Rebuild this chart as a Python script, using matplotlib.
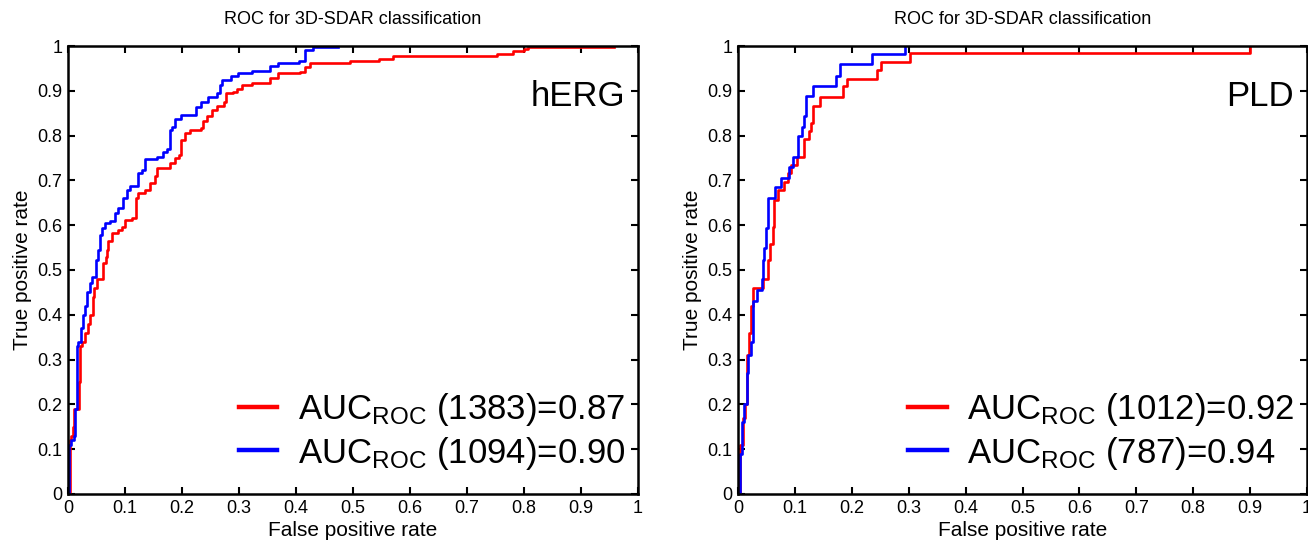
import matplotlib
matplotlib.use('Agg')
import matplotlib.pyplot as plt

plt.rcParams['font.family'] = ['Liberation Sans', 'DejaVu Sans']
plt.rcParams['mathtext.fontset'] = 'custom'
plt.rcParams['mathtext.rm'] = 'Liberation Sans'
plt.rcParams['mathtext.default'] = 'regular'

# ROC corner points (fpr, tpr)
herg_red_fpr = [0, 0.003, 0.004, 0.006, 0.009, 0.011, 0.019, 0.021, 0.024, 0.029, 0.035, 0.038,
                0.043, 0.046, 0.050, 0.062, 0.066, 0.068, 0.071, 0.077, 0.088, 0.094, 0.100,
                0.112, 0.119, 0.123, 0.135, 0.144, 0.153, 0.156, 0.179, 0.188, 0.195, 0.198,
                0.205, 0.214, 0.234, 0.237, 0.243, 0.252, 0.261, 0.274, 0.278, 0.290, 0.296,
                0.305, 0.322, 0.354, 0.369, 0.407, 0.416, 0.425, 0.436, 0.494, 0.545, 0.571,
                0.752, 0.781, 0.800, 0.807, 0.958]
herg_red_tpr = [0, 0.05, 0.12, 0.13, 0.15, 0.19, 0.25, 0.33, 0.34, 0.36, 0.38, 0.40,
                0.44, 0.46, 0.481, 0.515, 0.53, 0.544, 0.565, 0.583, 0.590, 0.597, 0.612,
                0.615, 0.660, 0.672, 0.679, 0.695, 0.709, 0.727, 0.738, 0.749, 0.757, 0.790,
                0.805, 0.812, 0.816, 0.833, 0.844, 0.857, 0.866, 0.876, 0.894, 0.898, 0.905,
                0.913, 0.918, 0.929, 0.939, 0.942, 0.953, 0.961, 0.963, 0.966, 0.972, 0.977,
                0.982, 0.988, 0.993, 0.997, 0.997]

herg_blue_fpr = [0, 0.002, 0.006, 0.011, 0.013, 0.015, 0.016, 0.018, 0.022, 0.026, 0.029, 0.033,
                 0.038, 0.042, 0.049, 0.053, 0.056, 0.059, 0.065, 0.074, 0.082, 0.088, 0.097,
                 0.103, 0.109, 0.123, 0.129, 0.135, 0.156, 0.167, 0.173, 0.179, 0.182, 0.188,
                 0.199, 0.225, 0.234, 0.246, 0.261, 0.267, 0.271, 0.286, 0.299, 0.322, 0.354,
                 0.369, 0.406, 0.416, 0.430, 0.474]
herg_blue_tpr = [0, 0.11, 0.12, 0.13, 0.19, 0.23, 0.33, 0.34, 0.37, 0.40, 0.42, 0.45,
                 0.47, 0.485, 0.522, 0.544, 0.578, 0.593, 0.605, 0.610, 0.627, 0.638, 0.660,
                 0.679, 0.688, 0.716, 0.723, 0.747, 0.753, 0.764, 0.771, 0.812, 0.820, 0.836,
                 0.846, 0.864, 0.876, 0.887, 0.896, 0.913, 0.924, 0.932, 0.939, 0.944, 0.955,
                 0.961, 0.966, 0.990, 0.997, 0.997]

pld_red_fpr = [0, 0.003, 0.009, 0.013, 0.016, 0.020, 0.022, 0.027, 0.044, 0.053, 0.056, 0.061,
               0.064, 0.071, 0.080, 0.088, 0.094, 0.103, 0.116, 0.124, 0.128, 0.131, 0.144,
               0.184, 0.191, 0.244, 0.251, 0.302, 0.900]
pld_red_tpr = [0, 0.11, 0.17, 0.20, 0.31, 0.36, 0.42, 0.46, 0.48, 0.522, 0.559, 0.596,
               0.656, 0.679, 0.697, 0.716, 0.734, 0.753, 0.792, 0.811, 0.829, 0.866, 0.887,
               0.910, 0.926, 0.946, 0.964, 0.985, 1.0]

pld_blue_fpr = [0, 0.003, 0.007, 0.011, 0.015, 0.018, 0.022, 0.027, 0.034, 0.042, 0.044, 0.045,
                0.049, 0.052, 0.065, 0.075, 0.090, 0.096, 0.105, 0.112, 0.116, 0.119, 0.132,
                0.172, 0.179, 0.235, 0.2935]
pld_blue_tpr = [0, 0.09, 0.16, 0.20, 0.27, 0.31, 0.34, 0.43, 0.455, 0.48, 0.522, 0.548,
                0.593, 0.661, 0.686, 0.705, 0.731, 0.753, 0.800, 0.820, 0.843, 0.889, 0.910,
                0.934, 0.959, 0.982, 1.0]

panels = [
    ('hERG', herg_red_fpr, herg_red_tpr, herg_blue_fpr, herg_blue_tpr,
     r'AUC$_{ROC}$ (1383)=0.87', r'AUC$_{ROC}$ (1094)=0.90'),
    ('PLD', pld_red_fpr, pld_red_tpr, pld_blue_fpr, pld_blue_tpr,
     r'AUC$_{ROC}$ (1012)=0.92', r'AUC$_{ROC}$ (787)=0.94'),
]
ticks = [0, 0.1, 0.2, 0.3, 0.4, 0.5, 0.6, 0.7, 0.8, 0.9, 1]
tick_labels = ['0', '0.1', '0.2', '0.3', '0.4', '0.5', '0.6', '0.7', '0.8', '0.9', '1']

fig = plt.figure(figsize=(13.08, 5.4), dpi=100)
rects = [[68/1308, 46/540, 570/1308, 448/540], [738/1308, 46/540, 569/1308, 448/540]]

for rect, (name, rx, ry, bx, by, rlab, blab) in zip(rects, panels):
    ax = fig.add_axes(rect)
    ax.plot(rx, ry, color='#ff0000', lw=1.9, drawstyle='steps-post', label=rlab)
    ax.plot(bx, by, color='#0000ff', lw=1.9, drawstyle='steps-post', label=blab)
    ax.set_xlim(0, 1)
    ax.set_ylim(0, 1)
    ax.set_xticks(ticks)
    ax.set_xticklabels(tick_labels)
    ax.set_yticks(ticks)
    ax.set_yticklabels(tick_labels)
    ax.tick_params(direction='in', top=True, right=True, length=5, width=1.5,
                   labelsize=13, pad=4)
    for s in ax.spines.values():
        s.set_linewidth(1.8)
    ax.set_title('ROC for 3D-SDAR classification', fontsize=13, pad=16)
    ax.set_xlabel('False positive rate', fontsize=15, labelpad=3)
    ax.set_ylabel('True positive rate', fontsize=15, labelpad=4)
    ax.text(0.977, 0.888, name, fontsize=25, ha='right', va='center', transform=ax.transAxes)
    leg = ax.legend(loc='lower right', bbox_to_anchor=(0.978, 0.05), frameon=False, fontsize=25,
                    handlelength=1.1, handletextpad=0.6, labelspacing=0.2, borderaxespad=0,
                    borderpad=0)
    for h in leg.get_lines():
        h.set_linewidth(3.2)

fig.savefig('out.png', dpi=100)
